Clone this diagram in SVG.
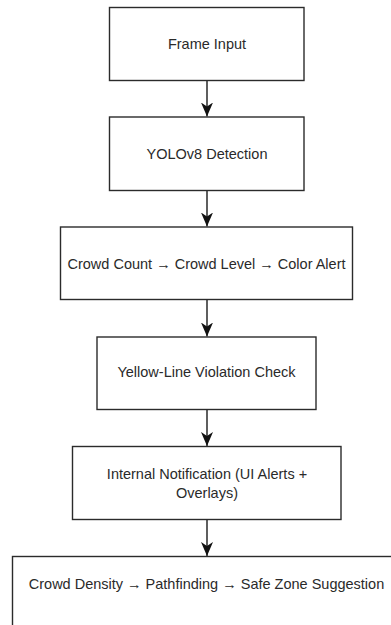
<svg xmlns="http://www.w3.org/2000/svg" width="391" height="625" viewBox="0 0 391 625">
  <style>
    .box { fill: #ffffff; stroke: #2b2b2b; stroke-width: 1.4; }
    .lbl { font-family: "Liberation Sans", Arial, sans-serif; font-size: 14.5px; fill: #2a2a2a; text-anchor: middle; }
    .edge { stroke: #1a1a1a; stroke-width: 1.4; fill: none; marker-end: url(#arrow); }
  </style>
  <defs>
    <marker id="arrow" markerUnits="userSpaceOnUse" markerWidth="14" markerHeight="14" viewBox="0 0 14 14" refX="14" refY="7" orient="auto">
      <path d="M0,1 L14,7 L0,13 L4,7 Z" fill="#111111"/>
    </marker>
  </defs>
  <rect width="391" height="625" fill="#ffffff"/>

  <g id="connectors">
    <line class="edge" x1="207" y1="80.5" x2="207" y2="116.5"/>
    <line class="edge" x1="207" y1="190.5" x2="207" y2="226.5"/>
    <line class="edge" x1="207" y1="299.5" x2="207" y2="336.5"/>
    <line class="edge" x1="207" y1="409.5" x2="207" y2="446"/>
    <line class="edge" x1="207" y1="519.5" x2="207" y2="556"/>
  </g>

  <g id="node-frame-input">
    <rect class="box" x="109.5" y="7.5" width="194.5" height="73"/>
    <text class="lbl" x="207" y="49">Frame Input</text>
  </g>

  <g id="node-yolo">
    <rect class="box" x="109.5" y="117" width="194.5" height="73.5"/>
    <text class="lbl" x="207" y="158.5">YOLOv8 Detection</text>
  </g>

  <g id="node-crowd-count">
    <rect class="box" x="60.5" y="227" width="292" height="72.5"/>
    <text class="lbl" x="206.5" y="268.5">Crowd Count → Crowd Level → Color Alert</text>
  </g>

  <g id="node-yellow-line">
    <rect class="box" x="97" y="337" width="219" height="72.5"/>
    <text class="lbl" x="206.5" y="377">Yellow-Line Violation Check</text>
  </g>

  <g id="node-notification">
    <rect class="box" x="72.5" y="446.5" width="268.5" height="73"/>
    <text class="lbl" x="207" y="478.5">Internal Notification (UI Alerts +</text>
    <text class="lbl" x="207" y="497.5">Overlays)</text>
  </g>

  <g id="node-safe-zone">
    <rect class="box" x="12.5" y="556.5" width="400" height="80"/>
    <text class="lbl" x="206.5" y="588.5">Crowd Density → Pathfinding → Safe Zone Suggestion</text>
  </g>
</svg>
